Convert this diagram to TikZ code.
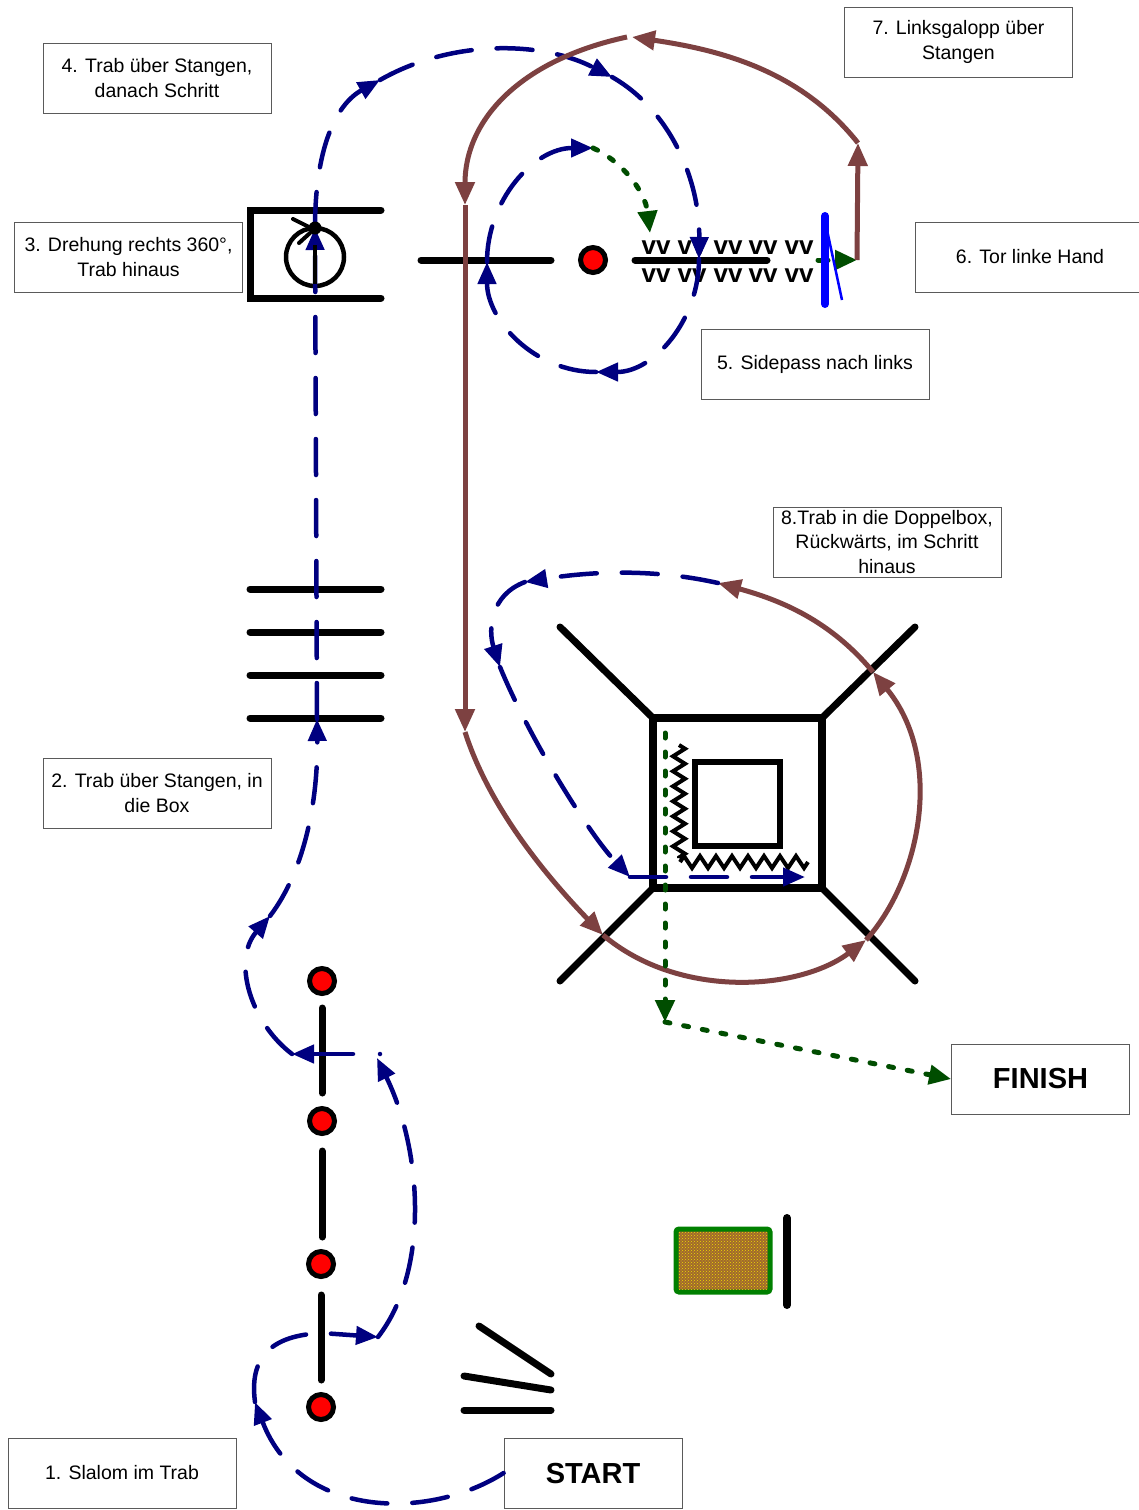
\documentclass[tikz,border=0pt]{standalone}
\usepackage{fontspec}
\setmainfont{Liberation Sans}
\usetikzlibrary{arrows.meta,decorations.pathmorphing,patterns}
\definecolor{navyp}{RGB}{0,0,128}
\definecolor{brownp}{RGB}{125,65,65}
\definecolor{greenp}{RGB}{0,77,0}
\definecolor{gatebl}{RGB}{0,0,255}
\definecolor{hayg}{RGB}{0,128,0}
\definecolor{haybase}{RGB}{160,105,45}
\definecolor{haydot}{RGB}{240,220,0}
\definecolor{labelgray}{RGB}{90,90,90}
\begin{document}
\begin{tikzpicture}[x=1pt,y=-1pt,
  lbl/.style={draw=labelgray, line width=0.8pt, minimum width=228pt, minimum height=70pt,
              align=center, inner sep=0pt, font=\fontsize{19.5}{24.5}\selectfont},
  bigl/.style={draw=labelgray, line width=0.8pt, minimum width=178pt, minimum height=70pt,
              inner sep=0pt, font=\fontsize{29}{34}\selectfont\bfseries},
  pole/.style={line width=7pt, line cap=round},
  reddot/.style={line width=5pt, fill=red},
  vvmark/.style={inner sep=0pt, font=\fontsize{26}{26}\selectfont\bfseries},
  bluepath/.style={draw=navyp, line width=4.5pt, line cap=round, dash pattern=on 36pt off 25pt,
                   -{Triangle[length=22pt,width=18pt]}},
  greenpath/.style={draw=greenp, line width=5pt, line cap=round, dash pattern=on 5pt off 14pt,
                   -{Triangle[length=22pt,width=19pt]}},
  brownpath/.style={draw=brownp, line width=5pt, -{Triangle[length=23pt,width=19pt]}}
]
\useasboundingbox (0,0) rectangle (1139,1510);
\fill[white] (0,0) rectangle (1139,1510);

% ---------- labels ----------
\node[lbl] (l4) at (157,78) {4. Trab über Stangen,\\danach Schritt};
\node[lbl] (l3) at (128.5,257) {3. Drehung rechts 360°,\\Trab hinaus};
\node[lbl] (l7) at (958.5,42) {7. Linksgalopp über\\Stangen};
\node[lbl, minimum width=230pt] (l6) at (1030,257) {6. Tor linke Hand};
\node[lbl] (l5) at (815,364) {5. Sidepass nach links};
\node[lbl] (l8) at (887,542) {8.Trab in die Doppelbox,\\Rückwärts, im Schritt\\hinaus};
\node[lbl] (l2) at (157,793) {2. Trab über Stangen, in\\die Box};
\node[lbl] (l1) at (122,1473) {1. Slalom im Trab};
\node[bigl] (start) at (593,1473) {START};
\node[bigl] (finish) at (1040.5,1079) {FINISH};

% ---------- black obstacles ----------
% box at 3
\draw[pole] (381,210) -- (250,210) -- (250,298) -- (381,298);
\draw[line width=4.5pt] (315,257) circle[radius=29pt];
\draw[line width=4pt, line cap=round] (293,219) -- (315,230);
\draw[line width=4pt, line cap=round] (299,243) -- (310,233);
% poles near 5
\draw[pole] (421,260) -- (551,260);
\draw[pole] (635,260) -- (767,260);
\draw[reddot] (593,260) circle[radius=12.5pt];
\foreach \xx in {656,692,728,763,799}{
  \node[vvmark] at (\xx,248) {vv};
  \node[vvmark] at (\xx,276) {vv};
}
% poles at 2
\foreach \yy in {589,632,675,718}{
  \draw[pole] (250,\yy) -- (381,\yy);
}
% double box
\draw[line width=8pt] (653,718) rectangle (822,888);
\draw[pole] (653,718) -- (560,627);
\draw[pole] (822,718) -- (915,627);
\draw[pole] (653,888) -- (560,981);
\draw[pole] (822,888) -- (915,981);
\draw[line width=6.5pt] (695,762) rectangle (780,846);
\draw[line width=4pt, line join=miter, decorate,
      decoration={zigzag, segment length=15pt, amplitude=6pt}] (679,745) -- (679,858);
\draw[line width=4pt, line join=miter, decorate,
      decoration={zigzag, segment length=16pt, amplitude=6pt}] (680,862) -- (808,862);
% slalom
\draw[pole] (322,1008) -- (322,1093);
\draw[pole] (322,1151) -- (322,1237);
\draw[pole] (321,1295) -- (321,1380);
\draw[reddot] (322,981) circle[radius=12.5pt];
\draw[reddot] (322,1121) circle[radius=12.5pt];
\draw[reddot] (321,1264) circle[radius=12.5pt];
\draw[reddot] (321,1407) circle[radius=12.5pt];
% start chute
\draw[pole] (479,1326) -- (551,1374);
\draw[pole] (464,1376) -- (551,1390);
\draw[pole] (464,1410) -- (551,1410);
% hay bale and pole
\draw[hayg, line width=5pt, rounded corners=3pt, fill=haybase] (676,1229) rectangle (770,1292);
\fill[pattern=crosshatch dots, pattern color=haydot] (679,1232) rectangle (767,1289);
\draw[line width=8pt, line cap=round] (787,1218) -- (787,1305);

% ---------- waypoints ----------
\coordinate (b1) at (255,1402);
\coordinate (b2) at (322,1333);
\coordinate (b3) at (378,1337);
\coordinate (b4) at (377,1058);
\coordinate (b5) at (380,1054);
\coordinate (b6) at (292,1054);
\coordinate (b7) at (270,916);
\coordinate (b8) at (317,719);
\coordinate (rot) at (315,228);
\coordinate (b10) at (380,80);
\coordinate (b11) at (612,77);
\coordinate (cR) at (699,259);
\coordinate (cB) at (596,372);
\coordinate (cL) at (487,262);
\coordinate (cT) at (593,148);
\coordinate (g1) at (650,233);
\coordinate (g2) at (818,260);
\coordinate (g3) at (857,260);
\coordinate (r2) at (858,143);
\coordinate (r3) at (632,37);
\coordinate (r4) at (627,37);
\coordinate (r5) at (465,205);
\coordinate (r6) at (465,732);
\coordinate (r7) at (603,935);
\coordinate (r8) at (866,940);
\coordinate (r9) at (873,672);
\coordinate (r10) at (718,583);
\coordinate (s2) at (525,582);
\coordinate (s3) at (500,667);
\coordinate (s4) at (630,877);
\coordinate (s5) at (805,877);
\coordinate (e1) at (665,733);
\coordinate (e2) at (665,1022);

% ---------- blue route ----------
\draw[bluepath] (start.west) .. controls (430,1520) and (300,1520) .. (b1);
\draw[bluepath] (b1) .. controls (248,1350) and (280,1335) .. (b2) -- (b3);
\draw[bluepath] (b3) .. controls (430,1270) and (422,1150) .. (b4);
\draw[bluepath, dash pattern=on 0pt off 27pt on 60pt] (b5) -- (b6);
\draw[bluepath] (b6) .. controls (250,1022) and (232,960) .. (b7);
\draw[bluepath] (b7) .. controls (305,870) and (318,800) .. (b8);
\draw[bluepath] (b8) -- (rot);
\draw[bluepath] (rot) .. controls (315,150) and (335,105) .. (b10);
\draw[bluepath] (b10) .. controls (450,40) and (540,40) .. (b11);
\draw[bluepath] (b11) .. controls (670,110) and (700,180) .. (cR);
\draw[bluepath] (cR) .. controls (699,320) and (654,372) .. (cB);
\draw[bluepath] (cB) .. controls (534,372) and (487,320) .. (cL);
\draw[bluepath] (cL) .. controls (487,200) and (534,148) .. (cT);
\draw[greenpath] (cT) .. controls (620,160) and (645,190) .. (g1);
\draw[greenpath, dash pattern=on 10pt off 40pt] (g2) -- (g3);

% ---------- brown route ----------
\draw[brownpath] (g3) -- (r2);
\draw[brownpath] (r2) .. controls (800,70) and (720,50) .. (r3);
\draw[brownpath] (r4) .. controls (520,60) and (465,120) .. (r5);
\draw[brownpath] (r5) -- (r6);
\draw[brownpath] (r6) .. controls (490,810) and (550,880) .. (r7);
\draw[brownpath] (r7) .. controls (680,1000) and (800,990) .. (r8);
\draw[brownpath] (r8) .. controls (920,880) and (945,760) .. (r9);
\draw[brownpath] (r9) .. controls (830,620) and (780,600) .. (r10);

% ---------- blue into the double box ----------
\draw[bluepath] (r10) .. controls (660,570) and (600,570) .. (s2);
\draw[bluepath] (s2) .. controls (490,595) and (488,630) .. (s3);
\draw[bluepath] (s3) .. controls (530,740) and (590,835) .. (s4);
\draw[bluepath] (s4) -- (s5);

% ---------- green to finish ----------
\draw[greenpath] (e1) -- (e2);
\draw[greenpath] (e2) -- (finish.west);

% ---------- gate ----------
\draw[gatebl, line width=8pt, line cap=round] (825,216) -- (825,304);
\draw[gatebl, line width=2.5pt] (827,230) -- (842,300);

% ---------- rotation mark on top ----------
\draw[line width=4pt] (315,245) -- (315,284);
\fill (rot) circle[radius=6.5pt];
\end{tikzpicture}
\end{document}
